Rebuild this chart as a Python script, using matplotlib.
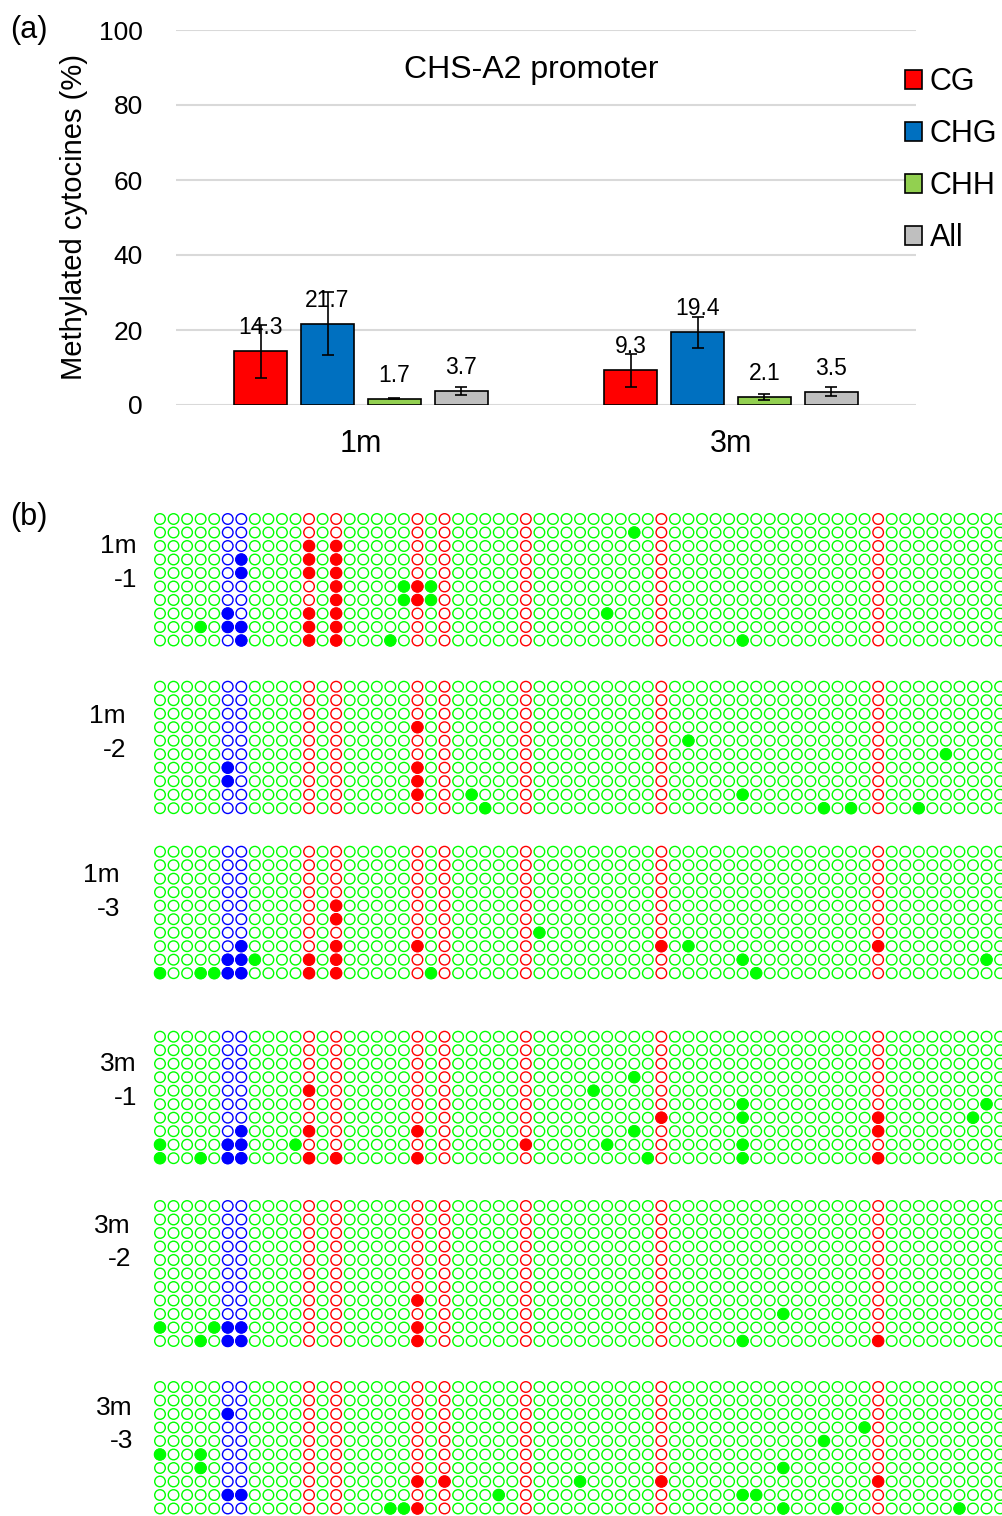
import numpy as np
import matplotlib
matplotlib.use("Agg")
import matplotlib.pyplot as plt

plt.rcParams['font.family'] = ['Liberation Sans', 'DejaVu Sans']

# ---- panel (a) data ----
ages = ["1m", "3m"]
contexts = ["CG", "CHG", "CHH", "All"]
meth_1m = [14.3, 21.7, 1.7, 3.7]
meth_3m = [9.3, 19.4, 2.1, 3.5]
err_1m = [7.0, 8.4, 0.2, 1.1]
err_3m = [4.4, 4.1, 0.8, 1.2]
bar_colors = ["#FF0000", "#0070C0", "#92D050", "#BFBFBF"]

# ---- panel (b) data ----
n_cols = 63
cg_cols = [11, 13, 19, 21, 27, 37, 53]
chg_cols = [5, 6]
clone_names = [("1m", "-1"), ("1m", "-2"), ("1m", "-3"),
               ("3m", "-1"), ("3m", "-2"), ("3m", "-3")]
clone_rows = [10, 10, 10, 10, 11, 10]
# methylated sites as (row, column)
meth_1m_1 = [(1, 35), (2, 11), (2, 13), (3, 6), (3, 11), (3, 13), (4, 6), (4, 11), (4, 13),
             (5, 13), (5, 18), (5, 19), (5, 20), (6, 13), (6, 18), (6, 19), (6, 20),
             (7, 5), (7, 11), (7, 13), (7, 33), (8, 3), (8, 5), (8, 6), (8, 11), (8, 13),
             (9, 6), (9, 11), (9, 13), (9, 17), (9, 43)]
meth_1m_2 = [(3, 19), (4, 39), (5, 58), (6, 5), (6, 19), (7, 5), (7, 19),
             (8, 19), (8, 23), (8, 43), (9, 24), (9, 49), (9, 51), (9, 56)]
meth_1m_3 = [(4, 13), (5, 13), (6, 28), (7, 6), (7, 13), (7, 19), (7, 37), (7, 39), (7, 53),
             (8, 5), (8, 6), (8, 7), (8, 11), (8, 13), (8, 43), (8, 61),
             (9, 0), (9, 3), (9, 4), (9, 5), (9, 6), (9, 11), (9, 13), (9, 20), (9, 44)]
meth_3m_1 = [(3, 35), (4, 11), (4, 32), (5, 43), (5, 61), (6, 37), (6, 43), (6, 53), (6, 60),
             (7, 6), (7, 11), (7, 19), (7, 35), (7, 53),
             (8, 0), (8, 5), (8, 6), (8, 10), (8, 27), (8, 33), (8, 43),
             (9, 0), (9, 3), (9, 5), (9, 6), (9, 11), (9, 13), (9, 19), (9, 36), (9, 43), (9, 53)]
meth_3m_2 = [(7, 19), (8, 46), (9, 0), (9, 4), (9, 5), (9, 6), (9, 19),
             (10, 3), (10, 5), (10, 6), (10, 19), (10, 43), (10, 53)]
meth_3m_3 = [(2, 5), (3, 52), (4, 49), (5, 0), (5, 3), (6, 3), (6, 46),
             (7, 19), (7, 21), (7, 31), (7, 37), (7, 53),
             (8, 5), (8, 6), (8, 25), (8, 43), (8, 44),
             (9, 17), (9, 18), (9, 19), (9, 46), (9, 50), (9, 59)]
clone_sites = [meth_1m_1, meth_1m_2, meth_1m_3, meth_3m_1, meth_3m_2, meth_3m_3]

W, H = 1002.0, 1516.0
fig = plt.figure(figsize=(W / 100, H / 100), dpi=100)

# ---------------- (a) bar chart ----------------
ax = fig.add_axes([176 / W, 1 - 405 / H, 740 / W, 375 / H])
x = np.arange(len(ages))
bw = 0.143
step = 0.181
vals = np.array([meth_1m, meth_3m]).T
errs = np.array([err_1m, err_3m]).T
for i, ctx in enumerate(contexts):
    pos = x + (i - 1.5) * step
    ax.bar(pos, vals[i], bw, color=bar_colors[i], edgecolor="black", linewidth=1.2,
           label=ctx, zorder=3)
    ax.errorbar(pos, vals[i], yerr=errs[i], fmt="none", ecolor="black",
                elinewidth=1.2, capsize=4.5, capthick=1.2, zorder=4)
    for p, v in zip(pos, vals[i]):
        ax.annotate(f"{v:.1f}", (p, v), xytext=(0, 17), textcoords="offset points",
                    ha="center", va="center", fontsize=16.5, zorder=5)

ax.set_xlim(-0.5, 1.5)
ax.set_ylim(0, 100)
ax.set_yticks(np.arange(0, 101, 20))
ax.set_xticks(x)
ax.set_xticklabels(ages, fontsize=22)
ax.tick_params(axis="y", length=0, labelsize=19, pad=24)
ax.tick_params(axis="x", length=0, pad=17)
ax.yaxis.grid(True, color="#D9D9D9", linewidth=1.5, zorder=0)
for s in ax.spines.values():
    s.set_visible(False)
ax.set_ylabel("Methylated cytocines (%)", fontsize=21)
ax.yaxis.set_label_coords(-0.119, 0.5)
ax.text(0.48, 0.893, "CHS-A2 promoter", transform=ax.transAxes,
        ha="center", va="center", fontsize=23)
fig.legend(loc="upper left", bbox_to_anchor=(899 / W, 1 - 61 / H), frameon=False,
           fontsize=22, handlelength=0.55, handleheight=0.55, handletextpad=0.25,
           labelspacing=0.72, borderpad=0.2, borderaxespad=0)
fig.text(10 / W, 1 - 30 / H, "(a)", fontsize=22, ha="left", va="center")

# ---------------- (b) clone maps ----------------
fig.text(10 / W, 1 - 517 / H, "(b)", fontsize=22, ha="left", va="center")
row0_px = [519, 686.7, 851.7, 1036.7, 1206, 1387]
lab_right = [137, 126, 120, 137, 131, 133]
lab_dy = [(27, 61), (29, 63), (23, 57), (27, 61), (20, 53), (21, 54)]
col_w = 13.55
row_h = 13.5

col_color = []
for c in range(n_cols):
    if c in cg_cols:
        col_color.append("#FF0000")
    elif c in chg_cols:
        col_color.append("#0000FF")
    else:
        col_color.append("#00FF00")

for k, sites in enumerate(clone_sites):
    nr = clone_rows[k]
    top = row0_px[k] - row_h / 2
    bax = fig.add_axes([(160 - col_w / 2) / W, 1 - (top + nr * row_h) / H,
                        n_cols * col_w / W, nr * row_h / H])
    bax.set_xlim(-0.5, n_cols - 0.5)
    bax.set_ylim(nr - 0.5, -0.5)
    bax.axis("off")
    rr, cc = np.meshgrid(np.arange(nr), np.arange(n_cols), indexing="ij")
    rr = rr.ravel()
    cc = cc.ravel()
    bax.scatter(cc, rr, s=58, facecolors="white",
                edgecolors=[col_color[c] for c in cc], linewidths=1.0, clip_on=False)
    mr = [s[0] for s in sites]
    mc = [s[1] for s in sites]
    bax.scatter(mc, mr, s=64, c=[col_color[c] for c in mc],
                edgecolors=[col_color[c] for c in mc], linewidths=1.0, clip_on=False)
    fig.text(lab_right[k] / W, 1 - (row0_px[k] + lab_dy[k][0]) / H, clone_names[k][0],
             fontsize=19, ha="right", va="center")
    fig.text(lab_right[k] / W, 1 - (row0_px[k] + lab_dy[k][1]) / H, clone_names[k][1],
             fontsize=19, ha="right", va="center")

fig.savefig("out.png", dpi=100)
